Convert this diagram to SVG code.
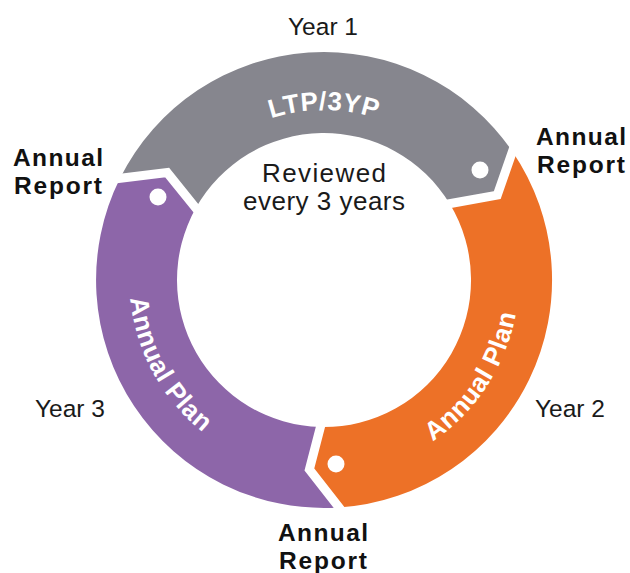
<svg xmlns="http://www.w3.org/2000/svg" width="630" height="573" viewBox="0 0 630 573">
  <style>
    .seg-gray { fill: #86868e; }
    .seg-orange { fill: #ed7127; }
    .seg-purple { fill: #8d66a9; }
    .dot { fill: #ffffff; }
    .divider { fill: none; stroke: #ffffff; stroke-width: 9; stroke-linejoin: miter; stroke-miterlimit: 10; }
    .ring-label { font-family: "Liberation Sans", Arial, sans-serif; font-weight: 700; font-size: 26px; fill: #ffffff; letter-spacing: 0.6px; }
    .year { font-family: "Liberation Sans", Arial, sans-serif; font-size: 24.5px; fill: #1a1a1a; }
    .note { font-family: "Liberation Sans", Arial, sans-serif; font-size: 26px; fill: #1a1a1a; text-anchor: middle; }
    .report { font-family: "Liberation Sans", Arial, sans-serif; font-weight: 700; font-size: 24.5px; fill: #111111; text-anchor: middle; }
  </style>
  <defs>
    <!-- label baselines: centre (324,280) -->
    <path id="arc-top" d="M193.8,170.7 A170,170 0 0 1 454.2,170.7"/>
    <path id="arc-right" d="M357.9,472 A196,196 0 0 0 513.2,232.8"/>
    <path id="arc-left" d="M140.2,214.9 A196,196 0 0 0 278.5,469.6"/>
  </defs>

  <rect width="630" height="573" fill="#ffffff"/>

  <!-- LTP / 3YP phase -->
  <g id="ltp">
    <path class="seg-gray" d="M120.0,178.3 A228,228 0 0 1 512.4,151.5 L497.3,195.1 L449.6,203.6 A147,147 0 0 0 195.8,208.1 L167.2,172.6 Z"/>
    <circle class="dot" cx="480" cy="170" r="8.5"/>
    <text class="ring-label"><textPath href="#arc-top" startOffset="50%" text-anchor="middle">LTP/3YP</textPath></text>
  </g>

  <!-- Year 2 annual plan -->
  <g id="plan-year2">
    <path class="seg-orange" d="M512.4,151.5 A228,228 0 0 1 339.1,507.5 L309.4,469.4 L320.4,427.0 A147,147 0 0 0 449.6,203.6 L497.3,195.1 Z"/>
    <circle class="dot" cx="336" cy="464" r="8.5"/>
    <text class="ring-label"><textPath href="#arc-right" startOffset="50%" text-anchor="middle">Annual Plan</textPath></text>
  </g>

  <!-- Year 3 annual plan -->
  <g id="plan-year3">
    <path class="seg-purple" d="M339.1,507.5 A228,228 0 0 1 120.0,178.3 L167.2,172.6 L195.8,208.1 A147,147 0 0 0 320.4,427.0 L309.4,469.4 Z"/>
    <circle class="dot" cx="158" cy="197" r="8.5"/>
    <text class="ring-label"><textPath href="#arc-left" startOffset="50%" text-anchor="middle">Annual Plan</textPath></text>
  </g>

  <!-- white chevron gaps between phases -->
  <g id="dividers">
    <polyline class="divider" points="520.0,129.7 497.3,195.1 435.3,206.2"/>
    <polyline class="divider" points="346.5,517.0 309.4,469.4 323.7,414.3"/>
    <polyline class="divider" points="108.2,179.7 167.2,172.6 204.4,218.8"/>
  </g>

  <!-- centre note -->
  <g id="centre-note">
    <text class="note" x="324" y="182" textLength="124" lengthAdjust="spacing">Reviewed</text>
    <text class="note" x="324" y="210" textLength="162" lengthAdjust="spacing">every 3 years</text>
  </g>

  <!-- year markers -->
  <g id="years">
    <text class="year" x="323" y="35" text-anchor="middle">Year 1</text>
    <text class="year" x="535" y="417">Year 2</text>
    <text class="year" x="35" y="417">Year 3</text>
  </g>

  <!-- annual report milestones -->
  <g id="report-top-right">
    <text class="report" x="581" y="145" textLength="90" lengthAdjust="spacing">Annual</text>
    <text class="report" x="581" y="172.5" textLength="88" lengthAdjust="spacing">Report</text>
  </g>
  <g id="report-left">
    <text class="report" x="58" y="166" textLength="90" lengthAdjust="spacing">Annual</text>
    <text class="report" x="58" y="193.5" textLength="88" lengthAdjust="spacing">Report</text>
  </g>
  <g id="report-bottom">
    <text class="report" x="323" y="541" textLength="90" lengthAdjust="spacing">Annual</text>
    <text class="report" x="323" y="568.5" textLength="88" lengthAdjust="spacing">Report</text>
  </g>
</svg>
